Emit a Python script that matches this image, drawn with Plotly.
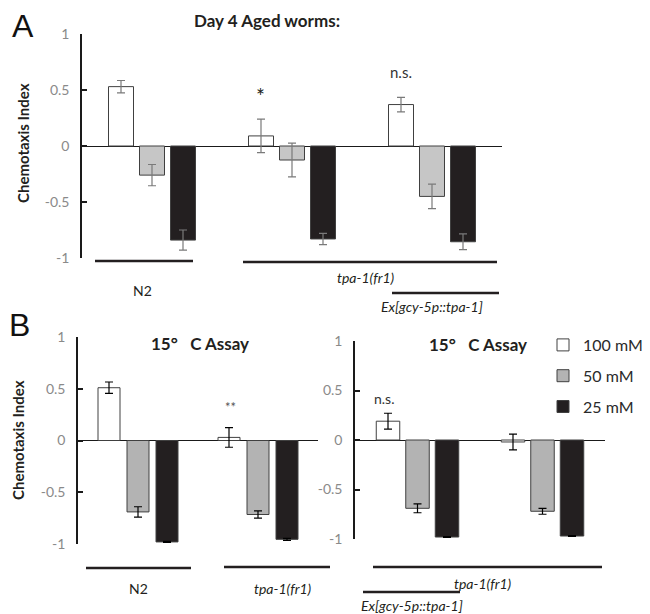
import plotly.graph_objects as go

# figure size (the page adds an 8px body margin around it)
W, H = 642, 606
OFF = 8

# ---------------- data ----------------
series_names = ["100 mM", "50 mM", "25 mM"]

# Panel A: Day 4 aged worms
a_groups = ["N2", "tpa-1(fr1)", "tpa-1(fr1); Ex[gcy-5p::tpa-1]"]
a_100 = [0.53, 0.09, 0.37]
a_100_err = [0.055, 0.15, 0.065]
a_50 = [-0.26, -0.125, -0.45]
a_50_err = [0.095, 0.15, 0.11]
a_25 = [-0.84, -0.83, -0.855]
a_25_err = [0.09, 0.05, 0.07]

# Panel B left: 15 C assay
bl_groups = ["N2", "tpa-1(fr1)"]
bl_100 = [0.51, 0.03]
bl_100_err = [0.055, 0.095]
bl_50 = [-0.69, -0.715]
bl_50_err = [0.05, 0.035]
bl_25 = [-0.98, -0.955]
bl_25_err = [0.005, 0.01]

# Panel B right: 15 C assay
br_groups = ["tpa-1(fr1); Ex[gcy-5p::tpa-1]", "tpa-1(fr1) "]
br_100 = [0.19, -0.02]
br_100_err = [0.08, 0.08]
br_50 = [-0.69, -0.72]
br_50_err = [0.045, 0.03]
br_25 = [-0.98, -0.97]
br_25_err = [0.005, 0.005]

y_ticks = [-1, -0.5, 0, 0.5, 1]
y_ticktext = ["-1", "-0.5", "0", "0.5", "1"]

# ---------------- styling ----------------
FONT = "Lato, Open Sans, sans-serif"
DARK = "#231f20"
OUTLINE = "#404040"


def px(x):
    return (x - OFF) / W


def py(y):
    return 1 - (y - OFF) / H


fig = go.Figure()

panels = [
    dict(groups=a_groups, vals=[a_100, a_50, a_25], errs=[a_100_err, a_50_err, a_25_err],
         xa="x", ya="y", slot=31 / 140, width=25 / 140, gray="#c6c6c6", errc="#7a7a7a", legend=False),
    dict(groups=bl_groups, vals=[bl_100, bl_50, bl_25], errs=[bl_100_err, bl_50_err, bl_25_err],
         xa="x2", ya="y2", slot=29 / 120, width=22 / 120, gray="#b3b3b3", errc="#000000", legend=False),
    dict(groups=br_groups, vals=[br_100, br_50, br_25], errs=[br_100_err, br_50_err, br_25_err],
         xa="x3", ya="y3", slot=29.5 / 125, width=23.5 / 125, gray="#b3b3b3", errc="#000000", legend=True),
]

for p in panels:
    fills = ["#ffffff", p["gray"], DARK]
    for i in range(3):
        fig.add_trace(go.Bar(
            x=p["groups"], y=p["vals"][i], name=series_names[i],
            xaxis=p["xa"], yaxis=p["ya"],
            width=p["width"], offset=(i - 1) * p["slot"] - p["width"] / 2,
            marker=dict(color=fills[i], line=dict(color=OUTLINE, width=1)),
            error_y=dict(type="data", array=p["errs"][i], color=p["errc"], thickness=1.2, width=4),
            showlegend=p["legend"], legendgroup=series_names[i],
        ))

yaxis_common = dict(
    range=[-1, 1], tickvals=y_ticks, ticktext=y_ticktext,
    showline=True, linecolor="#1a1a1a", linewidth=1.5,
    ticks="inside", ticklen=5, tickwidth=1.5, tickcolor="#1a1a1a",
    tickfont=dict(family=FONT, size=14, color="#8a8a8a"),
    ticklabelstandoff=8,
    zeroline=True, zerolinecolor="#1a1a1a", zerolinewidth=1.2,
    showgrid=False, fixedrange=True, automargin=False,
)
xaxis_common = dict(showticklabels=False, showline=False, showgrid=False, zeroline=False,
                    ticks="", automargin=False)

fig.update_layout(
    width=W, height=H,
    margin=dict(l=0, r=0, t=0, b=0, pad=0, autoexpand=False),
    paper_bgcolor="white", plot_bgcolor="white",
    barmode="overlay",
    font=dict(family=FONT, color=DARK),
    xaxis=dict(domain=[px(82), px(502)], anchor="y", range=[-0.5, 2.5], **xaxis_common),
    yaxis=dict(domain=[py(258), py(34)], anchor="x", **yaxis_common),
    xaxis2=dict(domain=[px(78), px(318)], anchor="y2", range=[-0.5, 1.5], **xaxis_common),
    yaxis2=dict(domain=[py(544), py(337)], anchor="x2", **yaxis_common),
    xaxis3=dict(domain=[px(355), px(605)], anchor="y3", range=[-0.5, 1.5], **xaxis_common),
    yaxis3=dict(domain=[py(539), py(341)], anchor="x3", **yaxis_common),
    legend=dict(
        x=px(543), y=py(328), xanchor="left", yanchor="top",
        font=dict(family=FONT, size=16, color="#2a2a2a"),
        tracegroupgap=7, itemwidth=30, bgcolor="rgba(0,0,0,0)",
    ),
)


def ann(text, x, y, size, bold=False, italic=False, color=DARK, angle=0, family=FONT):
    t = text
    if bold:
        t = "<b>" + t + "</b>"
    if italic:
        t = "<i>" + t + "</i>"
    fig.add_annotation(text=t, x=px(x), y=py(y), xref="paper", yref="paper",
                       showarrow=False, xanchor="center", yanchor="middle",
                       textangle=angle, font=dict(family=family, size=size, color=color))


def hline(x0, x1, y, w=2.5):
    fig.add_shape(type="line", xref="paper", yref="paper",
                  x0=px(x0), x1=px(x1), y0=py(y), y1=py(y),
                  line=dict(color=DARK, width=w))


# Panel letters
ann("A", 23, 26, 32, family="Liberation Sans, Arial, sans-serif", color="#111111")
ann("B", 20, 325, 32, family="Liberation Sans, Arial, sans-serif", color="#111111")

# Titles
ann("Day 4 Aged worms:", 267, 20, 17, bold=True)
ann("15°   C Assay", 200, 343, 17, bold=True)
ann("15°   C Assay", 478, 344, 17, bold=True)

# Y-axis titles
ann("Chemotaxis Index", 23, 143, 15, bold=True, angle=-90)
ann("Chemotaxis Index", 18, 440, 15, bold=True, angle=-90)

# Significance marks
ann("*", 260, 95, 21, color=DARK)
ann("n.s.", 401, 72, 15, color="#333333")
ann("**", 230, 407, 13, color="#555555")
ann("n.s.", 384, 398, 14, color="#333333")

# Genotype labels, panel A
hline(95, 193, 261)
hline(243, 497, 262)
ann("N2", 142, 290, 14)
ann("tpa-1(fr1)", 366, 277, 14, italic=True)
hline(392, 499, 293)
ann("Ex[gcy-5p::tpa-1]", 432, 307, 14, italic=True)

# Genotype labels, panel B left
hline(86, 191, 568)
ann("N2", 138, 588, 14)
hline(224, 330, 567)
ann("tpa-1(fr1)", 283, 588, 14, italic=True)

# Genotype labels, panel B right
hline(373, 602, 567)
ann("tpa-1(fr1)", 483, 583, 14, italic=True)
hline(363, 460, 592)
ann("Ex[gcy-5p::tpa-1]", 412, 605, 14, italic=True)

fig.write_html("out.html")
